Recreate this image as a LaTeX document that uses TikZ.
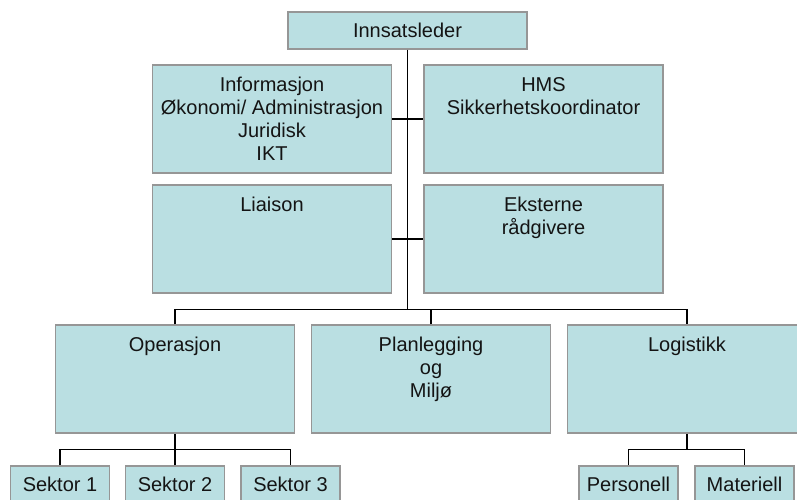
\documentclass[tikz,border=0pt]{standalone}
\usepackage{fontspec}
\setmainfont{Liberation Sans}
\usepackage{tikz}
\usetikzlibrary{positioning, calc}
\definecolor{myfill}{RGB}{186,223,226}
\definecolor{myborder}{RGB}{150,150,150}
\definecolor{mytext}{RGB}{20,20,20}
\newcommand{\orgfont}{\fontsize{20}{23}\selectfont}
\tikzset{
  unit/.style={rectangle, draw=myborder, fill=myfill, line width=1.5pt,
    inner sep=0pt, minimum width=239pt, minimum height=108pt},
  head/.style={unit, minimum height=37pt, font=\orgfont, text=mytext},
  leaf/.style={unit, minimum width=99pt, minimum height=37pt,
    font=\orgfont, text=mytext},
  caption/.style={inner sep=0pt, align=center, font=\orgfont, text=mytext},
  line/.style={line width=1.4pt, color=black}
}

\begin{document}
\begin{tikzpicture}[x=1pt, y=-1pt]
  \useasboundingbox (0,0) rectangle (797,500);
  \clip (0,0) rectangle (797,500);

  % Top of the chart
  \node[head] (lead) at (407.5,30.5) {Innsatsleder};

  % Staff boxes beside the trunk
  \node[unit] (info) at (272,119) {};
  \node[caption, below=13pt of info.north] (infotxt)
    {Informasjon\\Økonomi/ Administrasjon\\Juridisk\\IKT};
  \node[unit] (hms) at (543.5,119) {};
  \node[caption, below=13pt of hms.north] (hmstxt)
    {HMS\\Sikkerhetskoordinator};
  \node[unit] (liaison) at (272,239) {};
  \node[caption, below=13pt of liaison.north] (liaisontxt) {Liaison};
  \node[unit] (ext) at (543.5,239) {};
  \node[caption, below=13pt of ext.north] (exttxt) {Eksterne\\rådgivere};

  % Sections
  \node[unit] (ops) at (175,379) {};
  \node[caption, below=13pt of ops.north] (opstxt) {Operasjon};
  \node[unit] (plan) at (431,379) {};
  \node[caption, below=13pt of plan.north] (plantxt) {Planlegging\\og\\Miljø};
  \node[unit] (logi) at (687,379) {};
  \node[caption, below=13pt of logi.north] (logitxt) {Logistikk};

  % Sub units
  \node[leaf] (sek1) at (60,484.5) {Sektor 1};
  \node[leaf] (sek2) at (175,484.5) {Sektor 2};
  \node[leaf] (sek3) at (290.5,484.5) {Sektor 3};
  \node[leaf] (pers) at (628.5,484.5) {Personell};
  \node[leaf] (mat) at (744.5,484.5) {Materiell};

  % Trunk and branches
  \path (lead.south) ++(0,260) coordinate (hub);
  \draw[line] (lead.south) -- (hub);
  \draw[line] (info.east) -- (hms.west);
  \draw[line] (liaison.east) -- (ext.west);
  \draw[line] (ops.north) |- (hub) -| (logi.north);
  \draw[line] (plan.north) -- (plan.north |- hub);

  \path (ops.south) ++(0,16) coordinate (opsfork);
  \draw[line] (ops.south) -- (opsfork);
  \draw[line] (sek1.north) |- (opsfork) -| (sek3.north);
  \draw[line] (sek2.north) -- (sek2.north |- opsfork);

  \path (logi.south) ++(0,16) coordinate (logifork);
  \draw[line] (logi.south) -- (logifork);
  \draw[line] (pers.north) |- (logifork) -| (mat.north);
\end{tikzpicture}
\end{document}
